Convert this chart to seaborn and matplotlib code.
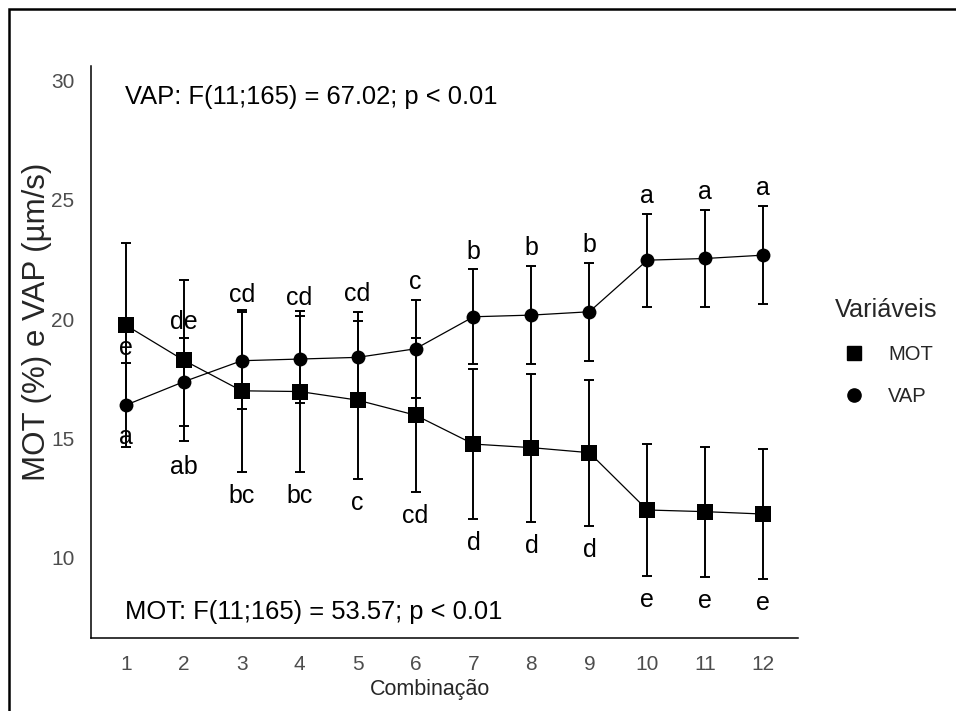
import matplotlib
matplotlib.use("Agg")
import matplotlib.pyplot as plt
from matplotlib.lines import Line2D
from matplotlib.patches import Rectangle
import numpy as np
import pandas as pd
import seaborn as sns

# Combinations and summary statistics (mean ± SD)
combinacao = list(range(1, 13))
mot_media = [19.75, 18.28, 17.00, 16.97, 16.61, 15.98, 14.77, 14.62, 14.41, 12.01, 11.94, 11.84]
mot_dp = [3.44, 3.38, 3.39, 3.36, 3.30, 3.23, 3.13, 3.10, 3.06, 2.76, 2.72, 2.72]
vap_media = [16.40, 17.38, 18.26, 18.33, 18.40, 18.76, 20.10, 20.17, 20.31, 22.47, 22.54, 22.68]
vap_dp = [1.75, 1.85, 2.02, 1.82, 1.90, 2.06, 1.98, 2.06, 2.06, 1.95, 2.03, 2.05]

# Tukey grouping letters
mot_letras = ["e", "de", "bc", "bc", "c", "cd", "d", "d", "d", "e", "e", "e"]
vap_letras = ["a", "ab", "cd", "cd", "cd", "c", "b", "b", "b", "a", "a", "a"]

anova_vap = "VAP: F(11;165) = 67.02; p < 0.01"
anova_mot = "MOT: F(11;165) = 53.57; p < 0.01"

sns.set_theme(style="white")
plt.rcParams["font.family"] = ["Liberation Sans", "DejaVu Sans"]

df = pd.DataFrame({
    "Combinação": combinacao * 2,
    "valor": mot_media + vap_media,
    "dp": mot_dp + vap_dp,
    "Variáveis": ["MOT"] * 12 + ["VAP"] * 12,
})

fig = plt.figure(figsize=(9.56, 7.11), dpi=100)
ax = fig.add_axes([91 / 956, 1 - 638 / 711, (798 - 91) / 956, (638 - 66) / 711])

# error bars under the markers
for var in ["MOT", "VAP"]:
    sub = df[df["Variáveis"] == var]
    ax.errorbar(sub["Combinação"], sub["valor"], yerr=sub["dp"], fmt="none",
                ecolor="black", elinewidth=1.4, capsize=3.8, capthick=1.4, zorder=2)

marcadores = {"MOT": ("s", 11.5), "VAP": ("o", 10)}
for var, (mk, ms) in marcadores.items():
    sns.lineplot(data=df[df["Variáveis"] == var], x="Combinação", y="valor",
                 color="black", linewidth=0.9, marker=mk, markersize=ms,
                 markeredgewidth=0, legend=False, errorbar=None, ax=ax, zorder=3)

# letters: above the VAP bars, below the MOT bars
pos_vap = [m + s + 0.75 for m, s in zip(vap_media, vap_dp)]
pos_mot = [m - s - 1.0 for m, s in zip(mot_media, mot_dp)]
pos_mot[0], pos_vap[0] = 18.8, 15.05
pos_mot[1], pos_vap[1] = 19.9, 13.8
for x, y, t in zip(combinacao, pos_vap, vap_letras):
    ax.text(x, y, t, ha="center", va="center", fontsize=18, color="black", zorder=4)
for x, y, t in zip(combinacao, pos_mot, mot_letras):
    ax.text(x, y, t, ha="center", va="center", fontsize=18, color="black", zorder=4)

ax.text(0.98, 29.3, anova_vap, ha="left", va="center", fontsize=18.4, color="black")
ax.text(0.98, 7.74, anova_mot, ha="left", va="center", fontsize=18.4, color="black")

ax.set_xlim(0.4, 12.6)
ax.set_ylim(6.65, 30.6)
ax.set_xticks(combinacao)
ax.set_yticks([10, 15, 20, 25, 30])
ax.tick_params(axis="both", length=0, labelsize=15, labelcolor="#4D4D4D")
ax.tick_params(axis="x", pad=12)
ax.tick_params(axis="y", pad=12)

sns.despine(ax=ax)
for s in ["left", "bottom"]:
    ax.spines[s].set_color("black")
    ax.spines[s].set_linewidth(1.1)

ax.set_xlabel("Combinação", fontsize=15.5)
ax.set_ylabel("MOT (%) e VAP (µm/s)", fontsize=22.5)
ax.xaxis.set_label_coords((430 - 91) / 707, (638 - 690) / 572)
ax.xaxis.label.set_va("center")
ax.yaxis.set_label_coords((37 - 91) / 707, (638 - 322) / 572)
ax.yaxis.label.set_va("center")

handles = [
    Line2D([], [], color="black", marker="s", linestyle="none", markersize=10),
    Line2D([], [], color="black", marker="o", linestyle="none", markersize=9.5),
]
leg = ax.legend(handles, ["MOT", "VAP"], title="Variáveis", loc="upper left",
                bbox_to_anchor=(835 / 956, 1 - 298 / 711), bbox_transform=fig.transFigure,
                frameon=False, borderpad=0, borderaxespad=0, fontsize=14.5,
                title_fontsize=18.2, handlelength=1.9, handletextpad=0.75,
                labelspacing=1.15, alignment="left")

# outer frame
fig.add_artist(Rectangle((9 / 956, -0.2), 1.5, 1.2 - 9 / 711, transform=fig.transFigure,
                         fill=False, edgecolor="black", linewidth=1.8, clip_on=False))

fig.savefig("out.png", dpi=100, facecolor="white")
